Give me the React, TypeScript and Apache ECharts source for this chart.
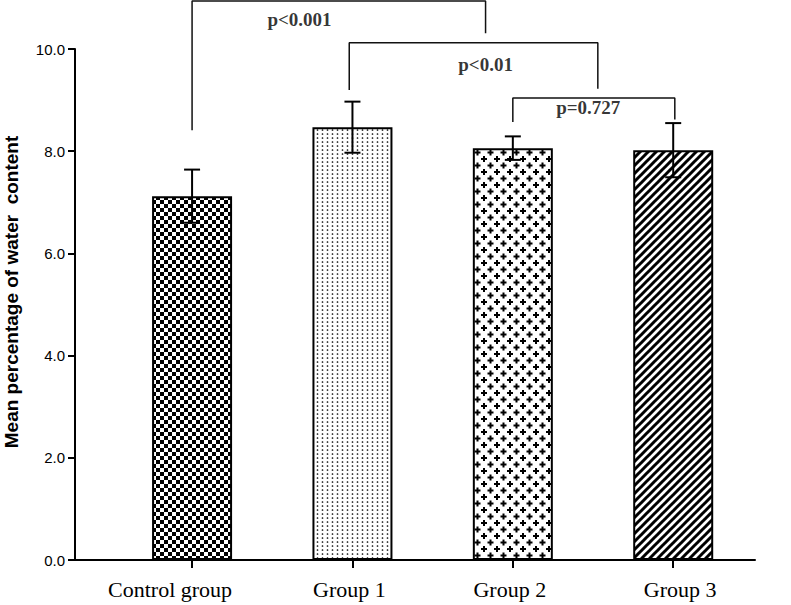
import React, { useEffect, useRef } from "react";
import * as echarts from "echarts";

const categories = ["Control group", "Group 1", "Group 2", "Group 3"];
const means = [7.12, 8.47, 8.06, 8.02];
const errors = [0.52, 0.5, 0.23, 0.53];
const yTicks = [0, 2, 4, 6, 8, 10];

const bracket1 = [[0, 8.41], [0, 10.94], [1.83, 10.94], [1.83, 10.31]];
const bracket2 = [[0.98, 9.2], [0.98, 10.12], [2.53, 10.12], [2.53, 9.22]];
const bracket3 = [[2.0, 8.57], [2.0, 9.04], [3.01, 9.04], [3.01, 8.62]];
const pLabels = ["p<0.001", "p<0.01", "p=0.727"];
const pLabelPos = [[0.67, 10.57], [1.83, 9.69], [2.47, 8.85]];

function makePattern(w: number, h: number, draw: (ctx: CanvasRenderingContext2D) => void) {
  const c = document.createElement("canvas");
  c.width = w;
  c.height = h;
  const ctx = c.getContext("2d")!;
  ctx.fillStyle = "#fff";
  ctx.fillRect(0, 0, w, h);
  ctx.fillStyle = "#000";
  ctx.strokeStyle = "#000";
  draw(ctx);
  return { image: c.toDataURL(), imageWidth: w, imageHeight: h, repeat: "repeat" } as any;
}

function buildPatterns() {
  const checker = makePattern(8, 8, (ctx) => {
    ctx.fillRect(0, 0, 4, 4);
    ctx.fillRect(4, 4, 4, 4);
  });
  const dots = makePattern(5, 4, (ctx) => {
    ctx.beginPath();
    ctx.arc(2.5, 2, 0.85, 0, Math.PI * 2);
    ctx.fill();
  });
  const crosses = makePattern(13, 13, (ctx) => {
    const cross = (cx: number, cy: number) => {
      ctx.fillRect(cx - 1, cy - 3, 2, 6);
      ctx.fillRect(cx - 3, cy - 1, 6, 2);
    };
    cross(3, 3);
    cross(9.5, 9.5);
    cross(9.5 - 13, 9.5);
    cross(9.5, 9.5 - 13);
    cross(9.5 - 13, 9.5 - 13);
  });
  const stripes = makePattern(8, 8, (ctx) => {
    ctx.lineWidth = 3;
    ctx.beginPath();
    ctx.moveTo(-1, 9);
    ctx.lineTo(9, -1);
    ctx.moveTo(-1, 1);
    ctx.lineTo(1, -1);
    ctx.moveTo(7, 9);
    ctx.lineTo(9, 7);
    ctx.stroke();
  });
  return [checker, dots, crosses, stripes];
}

const labelStyles = ["c", "g1", "g2", "g3"];

export default function App() {
  const ref = useRef<HTMLDivElement>(null);
  useEffect(() => {
    if (!ref.current) return;
    const chart = echarts.init(ref.current, null, { renderer: "svg" });
    const patterns = buildPatterns();
    const bracketSeries = [bracket1, bracket2, bracket3].map((b) => ({
      type: "line",
      data: b,
      symbol: "none",
      clip: false,
      silent: true,
      lineStyle: { color: "#111", width: 1.5 },
      z: 5,
    }));
    const base = { fontFamily: "Liberation Serif", fontSize: 22, color: "#000" };
    chart.setOption({
      animation: false,
      grid: { left: 75, right: 36, top: 49, bottom: 45, containLabel: false, outerBoundsMode: "none" },
      xAxis: {
        type: "value",
        min: -0.73,
        max: 3.51,
        splitLine: { show: false },
        axisLine: { show: true, onZero: false, lineStyle: { color: "#000", width: 2 } },
        axisTick: { show: true, customValues: [0, 1, 2, 3], length: 8, lineStyle: { color: "#000", width: 2 } },
        axisLabel: {
          customValues: [0, 1, 2, 3],
          formatter: (v: number) => {
            const i = Math.round(v);
            return "{" + labelStyles[i] + "|" + (categories[i] ?? "") + "}";
          },
          rich: {
            c: { ...base, padding: [0, 44, 0, 0] },
            g1: { ...base, padding: [0, 6, 0, 0] },
            g2: { ...base, padding: [0, 6, 0, 0] },
            g3: { ...base, padding: [0, 0, 0, 14] },
          },
          ...base,
          margin: 18,
        },
      },
      yAxis: {
        type: "value",
        min: 0,
        max: 10,
        interval: 2,
        splitLine: { show: false },
        axisLine: { show: true, onZero: false, lineStyle: { color: "#000", width: 2 } },
        axisTick: { show: true, length: 7, lineStyle: { color: "#000", width: 2 } },
        axisLabel: {
          customValues: yTicks,
          formatter: (v: number) => v.toFixed(1),
          fontFamily: "Liberation Sans",
          fontSize: 15,
          color: "#000",
          margin: 10,
        },
      },
      graphic: [
        {
          type: "text",
          x: 11,
          y: 292,
          rotation: Math.PI / 2,
          style: {
            text: "Mean percentage of water  content",
            font: 'bold 19px "Liberation Sans"',
            fill: "#000",
            align: "center",
            verticalAlign: "middle",
          },
        },
      ],
      series: [
        {
          type: "bar",
          barWidth: 80,
          data: means.map((v, i) => ({
            value: [i, v],
            itemStyle: { color: patterns[i], borderColor: "#000", borderWidth: 2 },
          })),
          z: 2,
        },
        {
          type: "custom",
          data: means.map((v, i) => [i, v, errors[i]]),
          z: 4,
          renderItem: (params: any, api: any) => {
            const x = api.value(0);
            const m = api.value(1);
            const e = api.value(2);
            const top = api.coord([x, m + e]);
            const bot = api.coord([x, m - e]);
            const hw = 8;
            const style = { stroke: "#000", lineWidth: 2 };
            return {
              type: "group",
              children: [
                { type: "line", shape: { x1: top[0], y1: top[1], x2: bot[0], y2: bot[1] }, style },
                { type: "line", shape: { x1: top[0] - hw, y1: top[1], x2: top[0] + hw, y2: top[1] }, style },
                { type: "line", shape: { x1: bot[0] - hw, y1: bot[1], x2: bot[0] + hw, y2: bot[1] }, style },
              ],
            };
          },
        },
        ...bracketSeries,
        {
          type: "scatter",
          data: pLabelPos.map((p, i) => ({ value: p, name: pLabels[i] })),
          symbolSize: 0,
          clip: false,
          silent: true,
          label: {
            show: true,
            position: "inside",
            formatter: (p: any) => p.name,
            fontFamily: "Liberation Serif",
            fontWeight: "bold",
            fontSize: 19,
            color: "#000",
          },
          z: 6,
        },
      ],
    } as any);
    return () => chart.dispose();
  }, []);
  return (
    <div
      ref={ref}
      style={{ position: "fixed", left: 0, top: 0, width: 791, height: 605, background: "#fff" }}
    />
  );
}
